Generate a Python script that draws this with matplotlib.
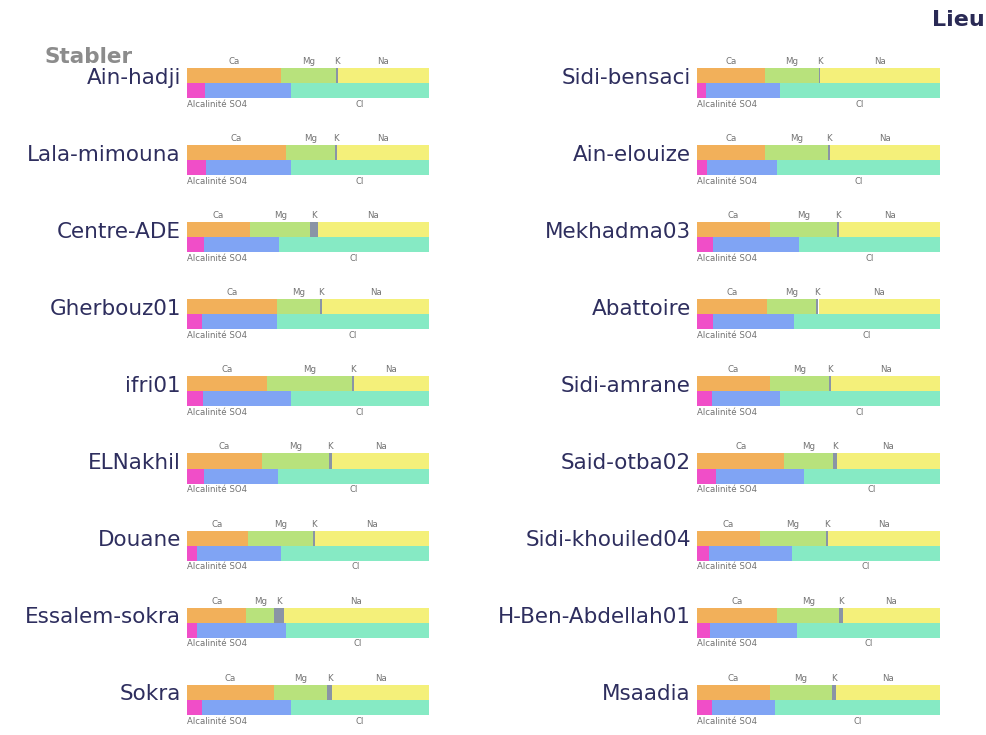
import matplotlib.pyplot as plt
import numpy as np

# Stabler diagrams: cation / anion shares (% meq)
sites_left = ['Ain-hadji', 'Lala-mimouna', 'Centre-ADE', 'Gherbouz01', 'ifri01',
              'ELNakhil', 'Douane', 'Essalem-sokra', 'Sokra']
ca_left = [39, 41, 26, 37, 33, 31, 25, 24.5, 36]
mg_left = [22.5, 20, 25, 18, 35, 27.5, 27, 11.5, 22]
k_left = [0.8, 0.8, 3, 0.8, 1, 1.5, 1, 4, 2]
na_left = [37.7, 38.2, 46, 44.2, 31, 40, 47, 60, 40]
alk_left = [7.5, 8, 7, 6, 6.5, 7, 4, 4, 6]
so4_left = [35.5, 35, 31, 31, 36.5, 30.5, 35, 37, 37]
cl_left = [57, 57, 62, 63, 57, 62.5, 61, 59, 57]

sites_right = ['Sidi-bensaci', 'Ain-elouize', 'Mekhadma03', 'Abattoire', 'Sidi-amrane',
               'Said-otba02', 'Sidi-khouiled04', 'H-Ben-Abdellah01', 'Msaadia']
ca_right = [28, 28, 30, 29, 30, 36, 26, 33, 30]
mg_right = [22, 26, 27.5, 20, 24.5, 20, 27, 25.5, 25.5]
k_right = [0.8, 0.8, 1, 1, 0.8, 1.5, 1, 1.5, 1.5]
na_right = [49.2, 45.2, 41.5, 50, 44.7, 42.5, 46, 40, 43]
alk_right = [3.5, 4, 6.5, 6.5, 6, 8, 5, 5.5, 6]
so4_right = [30.5, 29, 35.5, 33.5, 28, 36, 34, 35.5, 26]
cl_right = [66, 67, 58, 60, 66, 56, 61, 59, 68]

cation_names = ['Ca', 'Mg', 'K', 'Na']
cation_colors = ['#F2B05A', '#B8E27C', '#8A94A6', '#F4F07A']
anion_names = ['Alcalinité', 'SO4', 'Cl']
anion_colors = ['#F04EC8', '#80A4F4', '#86EAC4']

fig = plt.figure(figsize=(9.87, 7.35), dpi=100)
W, H = 987, 735
row_px = 77.1
row0_px = 83
ylim = (H - row0_px) / row_px, -row0_px / row_px
bar_h = 0.195
small = 6.2


def draw_column(x0_px, width_px, sites, cations, anions):
    ax = fig.add_axes([x0_px / W, 0, width_px / W, 1])
    ax.set_xlim(0, 1)
    ax.set_ylim(*ylim)
    ax.axis('off')
    for i, site in enumerate(sites):
        # cations (top bar)
        left = 0
        for j, name in enumerate(cation_names):
            w = cations[j][i] / 100
            ax.barh(i - bar_h / 2, w, height=bar_h, left=left,
                    color=cation_colors[j], linewidth=0)
            ax.text(left + w / 2, i - bar_h - 0.085, name, ha='center', va='center',
                    fontsize=small, color='#737373')
            left += w
        # anions (bottom bar)
        left = 0
        for j, name in enumerate(anion_names):
            w = anions[j][i] / 100
            ax.barh(i + bar_h / 2, w, height=bar_h, left=left,
                    color=anion_colors[j], linewidth=0)
            left += w
        ax.text(0, i + bar_h + 0.08, 'Alcalinité SO4', ha='left', va='center',
                fontsize=small, color='#737373')
        cl_start = (anions[0][i] + anions[1][i]) / 100
        ax.text(cl_start + anions[2][i] / 200, i + bar_h + 0.08, 'Cl',
                ha='center', va='center', fontsize=small, color='#737373')
        ax.text(-0.025, i - 0.07, site, ha='right', va='center',
                fontsize=15.5, color='#2E2E5E', clip_on=False)
    return ax


draw_column(187, 242, sites_left,
            [ca_left, mg_left, k_left, na_left],
            [alk_left, so4_left, cl_left])
draw_column(697, 243, sites_right,
            [ca_right, mg_right, k_right, na_right],
            [alk_right, so4_right, cl_right])

fig.text(45 / W, 1 - 57 / H, 'Stabler', ha='left', va='center',
         fontsize=15.5, fontweight='bold', color='#8C8C8C')
fig.text(985 / W, 1 - 20 / H, 'Lieu', ha='right', va='center',
         fontsize=16, fontweight='bold', color='#2A2A55')

fig.savefig('out.png', dpi=100)
